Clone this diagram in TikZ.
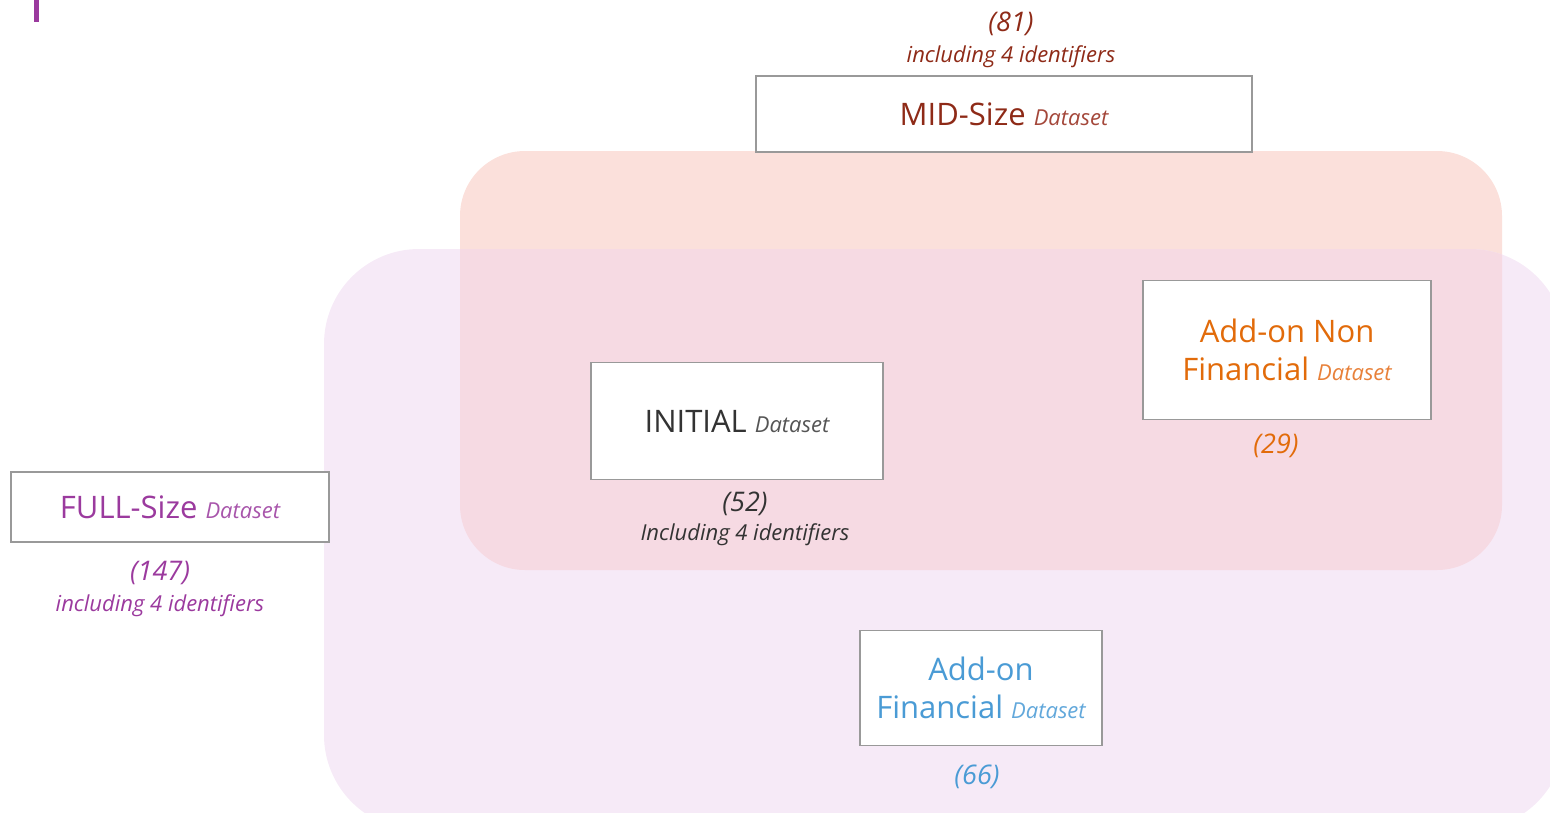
\documentclass[tikz,border=0pt]{standalone}
\usepackage{fontspec}
\setmainfont{Open Sans}
\definecolor{midred}{HTML}{8E2A17}
\definecolor{midredl}{HTML}{A4473A}
\definecolor{fullpurple}{HTML}{9B3A9E}
\definecolor{fullpurplel}{HTML}{A855AB}
\definecolor{initgray}{HTML}{333333}
\definecolor{initgrayl}{HTML}{555555}
\definecolor{nforange}{HTML}{E26B0A}
\definecolor{nforangel}{HTML}{E8813A}
\definecolor{finblue}{HTML}{4A9BD5}
\definecolor{finbluel}{HTML}{62A8DB}
\definecolor{boxgray}{HTML}{999999}
\definecolor{salmonfill}{HTML}{FBE0DB}
\definecolor{lilacfill}{HTML}{F6EAF7}
\definecolor{overlapfill}{HTML}{F6DAE3}
\newcommand{\dstxt}[1]{{\fontsize{22}{38}\selectfont\itshape #1}}
\tikzset{
  dbox/.style={draw=boxgray, line width=1.3pt, fill=white, align=center, inner sep=0pt,
    font={\fontsize{31}{38}\selectfont}},
  numlbl/.style={inner sep=0pt, align=center, font={\fontsize{27}{30}\selectfont\itshape}},
  inclbl/.style={inner sep=0pt, align=center, font={\fontsize{22}{24}\selectfont\itshape}}
}
\begin{document}
\begin{tikzpicture}[x=1pt,y=-1pt]
\useasboundingbox (0,0) rectangle (1550,812);
\begin{scope}
\clip (0,0) rectangle (1550,812);
% background regions
\fill[salmonfill, rounded corners=65] (460,151) rectangle (1502,570);
\fill[lilacfill, rounded corners=95] (324,249) rectangle (1565,830);
\begin{scope}
  \clip[rounded corners=65] (460,151) rectangle (1502,570);
  \fill[overlapfill, rounded corners=95] (324,249) rectangle (1565,830);
\end{scope}
\end{scope}
% title bar
\fill[fullpurple] (34,0) rectangle (39,22);
% MID-Size
\node[dbox, minimum width=496pt, minimum height=76pt, text=midred] (mid) at (1004,114) {MID-Size \textcolor{midredl}{\dstxt{Dataset}}};
\node[numlbl, text=midred] (midn) at (1011,24) {(81)};
\node[inclbl, text=midred] (midi) at (1011,57) {including 4 identifiers};
% INITIAL
\node[dbox, minimum width=292pt, minimum height=117pt, text=initgray] (init) at (737,421) {INITIAL \textcolor{initgrayl}{\dstxt{Dataset}}};
\node[numlbl, text=initgray] (initn) at (745,504) {(52)};
\node[inclbl, text=initgray] (initi) at (745,535) {Including 4 identifiers};
% Add-on Non Financial
\node[dbox, minimum width=288pt, minimum height=139pt, text=nforange] (nonfin) at (1287,350) {Add-on Non\\Financial \textcolor{nforangel}{\dstxt{Dataset}}};
\node[numlbl, text=nforange] (nonfinn) at (1276,446) {(29)};
% FULL-Size
\node[dbox, minimum width=318pt, minimum height=70pt, text=fullpurple] (full) at (170,507) {FULL-Size \textcolor{fullpurplel}{\dstxt{Dataset}}};
\node[numlbl, text=fullpurple] (fulln) at (160,573) {(147)};
\node[inclbl, text=fullpurple] (fulli) at (160,606) {including 4 identifiers};
% Add-on Financial
\node[dbox, minimum width=242pt, minimum height=115pt, text=finblue] (fin) at (981,688) {Add-on\\Financial \textcolor{finbluel}{\dstxt{Dataset}}};
\node[numlbl, text=finblue] (finn) at (977,777) {(66)};
\end{tikzpicture}
\end{document}
